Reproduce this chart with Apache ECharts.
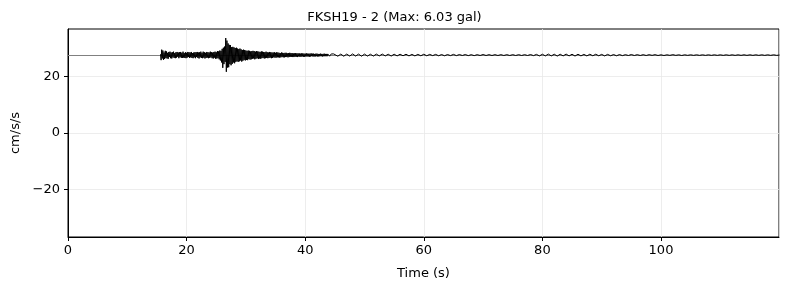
<!DOCTYPE html>
<html>
<head>
<meta charset="utf-8">
<title>FKSH19 - 2</title>
<style>
html, body { margin: 0; padding: 0; background: #fff; }
#main { width: 789px; height: 290px; }
</style>
</head>
<body>
<div id="main"></div>
<script src="https://cdn.jsdelivr.net/npm/echarts@6/dist/echarts.min.js"></script>
<script>
// trace is drawn around a constant offset (the grey line)
var offset = 27.5;
var titleText = 'FKSH19 - 2 (Max: 6.03 gal)';
var yTicks = [-20, 0, 20];

// part 1: 15.6 s .. 45.0 s, every 0.1 s (gal, relative to offset)
var startA = 15.6, stepA = 0.1;
var accA = [
	0.3, -1.8, 1.9, -1.2, 1.6, -1.7, 0.9, -1.4, 1.5, -1.0,
	1.3, -1.2, 0.8, -1.3, 1.1, -0.7, 1.2, -1.1, 0.9, -1.2,
	1.0, -0.8, 1.2, -1.0, 0.7, -1.1, 1.0, -0.9, 1.1, -0.6,
	0.9, -1.1, 1.0, -0.7, 1.1, -1.0, 0.8, -1.0, 1.2, -0.9,
	0.7, -1.0, 1.0, -1.1, 0.8, -0.9, 1.1, -0.7, 1.0, -1.0,
	0.9, -0.8, 1.1, -1.0, 0.7, -1.1, 0.9, -0.8, 1.0, -1.1,
	1.0, -0.7, 1.1, -1.0, 0.9, -1.2, 1.0, -0.8, 1.2, -1.0,
	0.8, -1.1, 1.2, -0.9, 1.0, -1.2, 0.8, -1.0, 1.1, -0.9,
	1.0, -1.1, 0.9, -1.0, 1.2, -0.8, 1.0, -1.1, 0.9, -1.2,
	1.1, -0.9, 1.2, -1.3, 1.0, -1.2, 1.4, -1.1, 1.3, -1.5,
	1.6, -1.9, 1.5, -2.6, 2.2, -4.5, 2.6, -3.2, 3.0, -2.4,
	6.0, -5.9, 5.1, -4.4, 4.1, -4.3, 3.6, -3.2, 3.5, -3.6,
	2.8, -3.1, 2.9, -2.6, 2.7, -2.9, 2.5, -2.4, 2.6, -2.2,
	2.3, -2.4, 2.1, -2.2, 2.3, -1.9, 2.0, -2.3, 1.8, -2.0,
	1.9, -1.7, 1.8, -1.9, 1.6, -1.7, 1.5, -1.8, 1.6, -1.4,
	1.5, -1.6, 1.3, -1.5, 1.4, -1.3, 1.5, -1.2, 1.4, -1.5,
	1.2, -1.3, 1.4, -1.1, 1.3, -1.4, 1.2, -1.2, 1.1, -1.3,
	1.3, -1.1, 1.2, -1.0, 1.1, -1.2, 1.0, -1.1, 1.2, -1.0,
	1.0, -1.1, 0.9, -1.0, 1.1, -0.9, 1.0, -1.1, 0.9, -1.0,
	0.9, -0.8, 1.0, -0.9, 0.8, -0.9, 1.0, -0.8, 0.9, -0.8,
	0.8, -0.9, 0.7, -0.8, 0.9, -0.7, 0.8, -0.8, 0.7, -0.8,
	0.8, -0.7, 0.8, -0.7, 0.6, -0.8, 0.7, -0.7, 0.8, -0.6,
	0.7, -0.6, 0.7, -0.7, 0.6, -0.7, 0.6, -0.6, 0.7, -0.6,
	0.6, -0.7, 0.6, -0.5, 0.6, -0.6, 0.5, -0.6, 0.6, -0.5,
	0.6, -0.6, 0.5, -0.6, 0.5, -0.5, 0.6, -0.5, 0.5, -0.5,
	0.5, -0.6, 0.5, -0.5, 0.6, -0.4, 0.5, -0.5, 0.5, -0.5,
	0.4, -0.5, 0.5, -0.4, 0.5, -0.5, 0.4, -0.5, 0.4, -0.4,
	0.5, -0.4, 0.4, -0.5, 0.4, -0.4, 0.5, -0.4, 0.4, -0.4,
	0.4, -0.4, 0.4, -0.3, 0.4, -0.4, 0.3, -0.4, 0.4, -0.3,
	0.4, -0.3, 0.4, -0.3, 0.3
];

// part 2: 45.5 s .. 120.0 s, every 0.5 s
var startB = 45.5, stepB = 0.5;
var accB = [
	-0.4, 0.35, -0.4, 0.35, -0.35, 0.4, -0.35, 0.35, -0.4, 0.35,
	-0.35, 0.3, -0.35, 0.35, -0.3, 0.35, -0.3, 0.3, -0.35, 0.3,
	-0.3, 0.3, -0.25, 0.3, -0.3, 0.25, -0.3, 0.25, -0.25, 0.3,
	-0.25, 0.25, -0.2, 0.25, -0.25, 0.2, -0.25, 0.2, -0.2, 0.25,
	-0.2, 0.2, -0.15, 0.2, -0.2, 0.15, -0.2, 0.15, -0.15, 0.2,
	-0.15, 0.15, -0.15, 0.15, -0.15, 0.15, -0.15, 0.15, -0.15, 0.15,
	-0.15, 0.15, -0.15, 0.15, -0.15, 0.2, -0.2, 0.25, -0.3, 0.3,
	-0.3, 0.35, -0.3, 0.3, -0.35, 0.3, -0.3, 0.35, -0.3, 0.3,
	-0.35, 0.3, -0.3, 0.25, -0.3, 0.3, -0.25, 0.3, -0.25, 0.25,
	-0.3, 0.25, -0.25, 0.2, -0.25, 0.2, -0.2, 0.15, -0.15, 0.2,
	-0.15, 0.15, -0.15, 0.15, -0.15, 0.15, -0.1, 0.15, -0.15, 0.1,
	-0.15, 0.1, -0.1, 0.15, -0.1, 0.1, -0.15, 0.1, -0.1, 0.1,
	-0.1, 0.1, -0.1, 0.1, -0.1, 0.1, -0.1, 0.1, -0.1, 0.1,
	-0.1, 0.1, -0.1, 0.1, -0.1, 0.1, -0.1, 0.1, -0.1, 0.1,
	-0.1, 0.1, -0.1, 0.1, -0.1, 0.1, -0.1, 0.1, -0.1, 0.0
];

var pts = [];
for (var i = 0; i < accA.length; i++) {
	pts.push([+(startA + i * stepA).toFixed(2), offset + accA[i]]);
}
for (var j = 0; j < accB.length; j++) {
	pts.push([+(startB + j * stepB).toFixed(2), offset + accB[j]]);
}

var font = 'DejaVu Sans';
var myChart = echarts.init(document.getElementById('main'), null, { renderer: 'canvas' });
myChart.setOption({
	animation: false,
	title: {
		text: titleText,
		left: 'center',
		top: 6,
		textStyle: { fontFamily: font, fontSize: 13, fontWeight: 'normal', color: '#000' }
	},
	grid: { left: 68, right: 10, top: 29, bottom: 53, show: true, borderColor: '#000', borderWidth: 1 },
	xAxis: {
		type: 'value',
		min: 0,
		max: 119.9,
		interval: 20,
		name: 'Time (s)',
		nameLocation: 'middle',
		nameGap: 30,
		nameTextStyle: { fontFamily: font, fontSize: 13, color: '#000' },
		axisLine: { onZero: false, lineStyle: { color: '#000', width: 1 } },
		axisTick: { length: 4, lineStyle: { color: '#000' } },
		axisLabel: { fontFamily: font, fontSize: 13, color: '#000', margin: 7, showMaxLabel: false },
		splitLine: { show: true, lineStyle: { color: '#e8e8e8', width: 0.8 } }
	},
	yAxis: {
		type: 'value',
		min: -36.7,
		max: 36.7,
		name: 'cm/s/s',
		nameLocation: 'middle',
		nameGap: 43,
		nameTextStyle: { fontFamily: font, fontSize: 13, color: '#000' },
		axisLine: { show: true, onZero: false, lineStyle: { color: '#000', width: 1 } },
		axisTick: { show: true, length: 4, customValues: yTicks, lineStyle: { color: '#000' } },
		axisLabel: {
			fontFamily: font, fontSize: 13, color: '#000', margin: 8, customValues: yTicks,
			formatter: function (v) { return String(v).replace('-', '\u2212'); }
		},
		splitLine: { show: true, lineStyle: { color: '#e8e8e8', width: 0.8 } }
	},
	series: [{
		// grey baseline, kept under the trace
		type: 'line',
		data: [],
		z: 1,
		silent: true,
		markLine: {
			silent: true,
			z: 1,
			symbol: 'none',
			animation: false,
			label: { show: false },
			lineStyle: { color: '#808080', type: 'solid', width: 1 },
			data: [{ yAxis: offset }]
		}
	}, {
		type: 'line',
		data: pts,
		z: 10,
		showSymbol: false,
		silent: true,
		lineStyle: { color: '#000', width: 1 }
	}]
});
</script>
</body>
</html>
